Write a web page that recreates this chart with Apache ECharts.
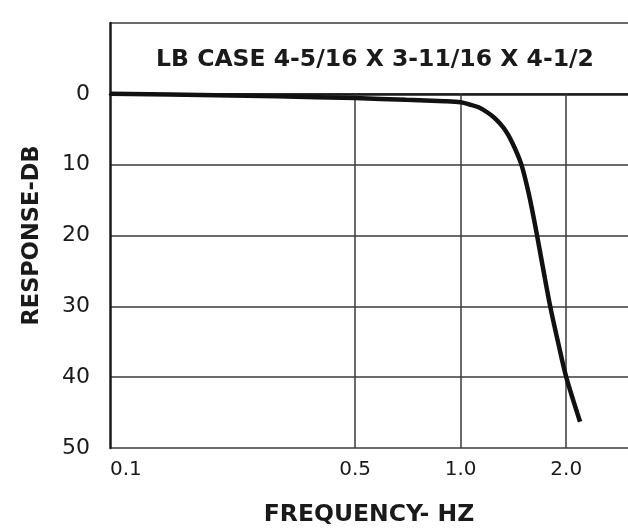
<!DOCTYPE html>
<html>
<head>
<meta charset="utf-8">
<script src="https://cdn.jsdelivr.net/npm/echarts@6/dist/echarts.min.js"></script>
<style>
html,body{margin:0;padding:0;background:#fff;}
#chart{width:628px;height:532px;}
</style>
</head>
<body>
<div id="chart"></div>
<script>
// Data
var titleText = 'LB CASE 4-5/16 X 3-11/16 X 4-1/2';
var freqHz = [0.1, 0.2, 0.3, 0.5, 0.7, 0.9, 1.0, 1.06, 1.125, 1.19, 1.255, 1.33, 1.4, 1.49, 1.57, 1.644, 1.72, 1.8, 1.9, 2.0, 2.19];
var responseDb = [0, 0.2, 0.35, 0.6, 0.85, 1.05, 1.2, 1.5, 1.9, 2.6, 3.5, 4.9, 6.8, 10, 14.5, 19.5, 24.8, 30, 35.3, 40, 46.3];
var xTickValues = [0.1, 0.5, 1.0, 2.0];
var xTickLabels = ['0.1', '0.5', '1.0', '2.0'];
var xGridValues = [0.5, 1.0, 2.0];
var yTickLabels = ['0', '10', '20', '30', '40', '50'];

var points = freqHz.map(function (f, i) { return [f, responseDb[i]]; });
var gridLines = xGridValues.map(function (v) {
  return [{ coord: [v, 0] }, { coord: [v, 50] }];
});

var chart = echarts.init(document.getElementById('chart'), null, { renderer: 'canvas' });
var ink = '#1a1a1a';
var fontFam = '"DejaVu Sans", "Liberation Sans", sans-serif';
chart.setOption({
  animation: false,
  backgroundColor: '#ffffff',
  title: {
    text: titleText,
    left: 370,
    top: 43,
    textAlign: 'center',
    textStyle: { fontSize: 23.5, fontWeight: 'bold', color: ink, fontFamily: fontFam }
  },
  grid: { left: 110, right: -2, top: 23, bottom: 82 },
  xAxis: {
    type: 'log',
    logBase: 10,
    min: 0.1,
    max: 3,
    name: 'FREQUENCY- HZ',
    nameLocation: 'middle',
    nameGap: 55,
    nameTextStyle: { fontSize: 23.5, fontWeight: 'bold', color: ink, fontFamily: fontFam },
    axisLine: { show: true, lineStyle: { color: ink, width: 2.5 } },
    axisTick: { show: false },
    splitLine: { show: false },
    axisLabel: {
      customValues: xTickValues,
      alignMinLabel: 'left',
      margin: 12,
      fontSize: 20,
      color: ink,
      fontFamily: fontFam,
      formatter: function (v) {
        for (var i = 0; i < xTickValues.length; i++) {
          if (Math.abs(xTickValues[i] - v) < 1e-6) return xTickLabels[i];
        }
        return '';
      }
    }
  },
  yAxis: {
    type: 'value',
    inverse: true,
    min: -10,
    max: 50,
    interval: 10,
    name: 'RESPONSE-DB',
    nameLocation: 'middle',
    nameGap: 66,
    nameTextStyle: { fontSize: 22.5, fontWeight: 'bold', color: ink, fontFamily: fontFam },
    axisLine: { show: true, lineStyle: { color: ink, width: 2.5 } },
    axisTick: { show: false },
    splitLine: { show: true, lineStyle: { color: '#3a3a3a', width: 1.5 } },
    axisLabel: {
      margin: 20,
      fontSize: 22,
      color: ink,
      fontFamily: fontFam,
      formatter: function (v) {
        var idx = yTickLabels.indexOf(String(v));
        return idx >= 0 ? yTickLabels[idx] : '';
      }
    }
  },
  series: [{
    type: 'line',
    data: points,
    smooth: 0.3,
    showSymbol: false,
    lineStyle: { color: '#111', width: 4.5 },
    markLine: {
      silent: true,
      symbol: ['none', 'none'],
      label: { show: false },
      lineStyle: { color: '#3a3a3a', width: 1.5, type: 'solid' },
      data: gridLines
    },
    z: 5
  }]
});
</script>
</body>
</html>
